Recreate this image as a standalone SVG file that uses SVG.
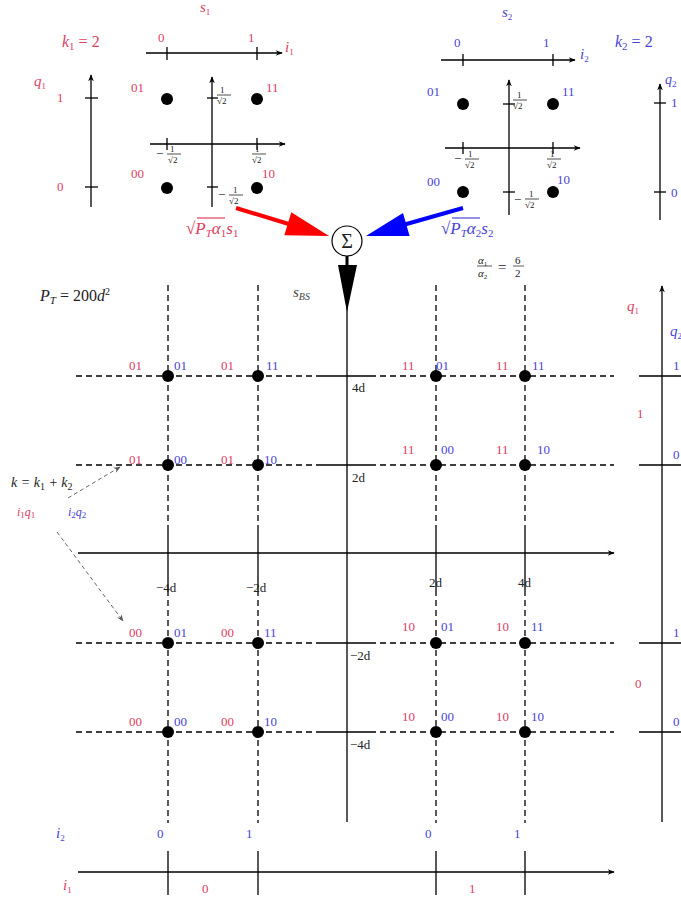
<svg xmlns="http://www.w3.org/2000/svg" width="681" height="903" viewBox="0 0 681 903">
<defs>
<marker id="ah" viewBox="0 0 10 10" refX="9" refY="5" markerWidth="9" markerHeight="7" orient="auto" markerUnits="userSpaceOnUse"><path d="M0,1 L10,5 L0,9 L3,5 Z" fill="#000"/></marker>
<marker id="ahg" viewBox="0 0 10 10" refX="9" refY="5" markerWidth="9" markerHeight="7" orient="auto" markerUnits="userSpaceOnUse"><path d="M0,1 L10,5 L0,9 L3,5 Z" fill="#555"/></marker>
</defs>
<style>
text{font-family:"Liberation Serif","DejaVu Serif",serif;font-size:13px}
.r{fill:#e0405f}
.b{fill:#4a44d6}
.k{fill:#222}
.it{font-style:italic}
.sm{font-size:9px;font-style:normal}
.sub{font-style:normal}
.big{font-size:16px}
.ax{stroke:#000;stroke-width:1.3;fill:none}
.axa{stroke:#000;stroke-width:1.3;fill:none;marker-end:url(#ah)}
.dash{stroke:#000;stroke-width:1.3;stroke-dasharray:6,4;fill:none}
.dot{fill:#000}
</style>
<rect width="681" height="903" fill="#fff"/>

<!-- Top-left constellation s1 -->
<g id="s1">
<text class="r it" x="200" y="12" style="font-size:15px">s<tspan class="sm" dy="3">1</tspan></text>
<text class="r it big" x="62" y="47">k<tspan class="sm" dy="3" style="font-size:11px">1</tspan><tspan dy="-3" style="font-style:normal"> = 2</tspan></text>
<line class="axa" x1="146" y1="53" x2="282" y2="53"/>
<line class="ax" x1="167" y1="47" x2="167" y2="60"/>
<line class="ax" x1="257" y1="47" x2="257" y2="60"/>
<text class="r" x="158" y="42">0</text>
<text class="r" x="248" y="42">1</text>
<text class="r it" x="285" y="52" style="font-size:15px">i<tspan class="sm" dy="3">1</tspan></text>
<line class="axa" x1="91" y1="207" x2="91" y2="75"/>
<line class="ax" x1="85" y1="98" x2="98" y2="98"/>
<line class="ax" x1="85" y1="187" x2="98" y2="187"/>
<text class="r it" x="34" y="86" style="font-size:15px">q<tspan class="sm" dy="3">1</tspan></text>
<text class="r" x="57" y="102">1</text>
<text class="r" x="57" y="191">0</text>
<line class="axa" x1="212" y1="207" x2="212" y2="77"/>
<line class="axa" x1="150" y1="144" x2="285" y2="144"/>
<line class="ax" x1="167" y1="138" x2="167" y2="150"/>
<line class="ax" x1="257" y1="138" x2="257" y2="150"/>
<line class="ax" x1="207" y1="98" x2="218" y2="98"/>
<line class="ax" x1="207" y1="187" x2="218" y2="187"/>
<circle class="dot" cx="167" cy="99" r="6"/>
<circle class="dot" cx="257" cy="99" r="6"/>
<circle class="dot" cx="167" cy="188" r="6"/>
<circle class="dot" cx="257" cy="188" r="6"/>
<text class="r" x="131" y="92">01</text>
<text class="r" x="266" y="92">11</text>
<text class="r" x="131" y="178">00</text>
<text class="r" x="262" y="178">10</text>
<g class="k">
<text class="sm" x="220" y="93">1</text><line x1="217" y1="95" x2="231" y2="95" stroke="#000" stroke-width="0.7"/><text class="sm" x="217" y="104">√2</text>
<text x="156" y="158">−</text><text class="sm" x="170" y="152">1</text><line x1="167" y1="154" x2="181" y2="154" stroke="#000" stroke-width="0.7"/><text class="sm" x="168" y="163">√2</text>
<text class="sm" x="255" y="152">1</text><line x1="252" y1="154" x2="266" y2="154" stroke="#000" stroke-width="0.7"/><text class="sm" x="252" y="163">√2</text>
<text x="218" y="199">−</text><text class="sm" x="233" y="193">1</text><line x1="229" y1="195" x2="243" y2="195" stroke="#000" stroke-width="0.7"/><text class="sm" x="229" y="204">√2</text>
</g>
</g>

<!-- Top-right constellation s2 -->
<g id="s2">
<text class="b it" x="502" y="17" style="font-size:15px">s<tspan class="sm" dy="3">2</tspan></text>
<text class="b it big" x="615" y="47">k<tspan class="sm" dy="3" style="font-size:11px">2</tspan><tspan dy="-3" style="font-style:normal"> = 2</tspan></text>
<line class="axa" x1="441" y1="60" x2="575" y2="60"/>
<line class="ax" x1="463" y1="54" x2="463" y2="66"/>
<line class="ax" x1="553" y1="54" x2="553" y2="66"/>
<text class="b" x="454" y="47">0</text>
<text class="b" x="543" y="47">1</text>
<text class="b it" x="580" y="59" style="font-size:15px">i<tspan class="sm" dy="3">2</tspan></text>
<line class="axa" x1="509" y1="215" x2="509" y2="80"/>
<line class="axa" x1="445" y1="148" x2="580" y2="148"/>
<line class="ax" x1="463" y1="142" x2="463" y2="154"/>
<line class="ax" x1="553" y1="142" x2="553" y2="154"/>
<line class="ax" x1="503" y1="104" x2="515" y2="104"/>
<line class="ax" x1="503" y1="192" x2="515" y2="192"/>
<circle class="dot" cx="463" cy="104" r="6"/>
<circle class="dot" cx="553" cy="104" r="6"/>
<circle class="dot" cx="463" cy="192" r="6"/>
<circle class="dot" cx="553" cy="192" r="6"/>
<text class="b" x="427" y="96">01</text>
<text class="b" x="562" y="96">11</text>
<text class="b" x="427" y="186">00</text>
<text class="b" x="557" y="184">10</text>
<g class="k">
<text class="sm" x="517" y="98">1</text><line x1="513" y1="100" x2="527" y2="100" stroke="#000" stroke-width="0.7"/><text class="sm" x="513" y="109">√2</text>
<text x="454" y="163">−</text><text class="sm" x="468" y="157">1</text><line x1="465" y1="159" x2="479" y2="159" stroke="#000" stroke-width="0.7"/><text class="sm" x="465" y="168">√2</text>
<text class="sm" x="550" y="157">1</text><line x1="547" y1="159" x2="561" y2="159" stroke="#000" stroke-width="0.7"/><text class="sm" x="547" y="168">√2</text>
<text x="514" y="204">−</text><text class="sm" x="529" y="197">1</text><line x1="525" y1="199" x2="539" y2="199" stroke="#000" stroke-width="0.7"/><text class="sm" x="525" y="208">√2</text>
</g>
<line class="axa" x1="660" y1="220" x2="660" y2="84"/>
<line class="ax" x1="654" y1="103" x2="666" y2="103"/>
<line class="ax" x1="654" y1="192" x2="666" y2="192"/>
<text class="b it" x="665" y="84" style="font-size:14px">q<tspan class="sm" dy="3">2</tspan></text>
<text class="b" x="671" y="107">1</text>
<text class="b" x="671" y="197">0</text>
</g>

<!-- Summation node -->
<g id="sum">
<circle cx="347" cy="241" r="15" fill="#fff" stroke="#000" stroke-width="1.2"/>
<text x="347" y="248" text-anchor="middle" class="k" style="font-size:20px">Σ</text>
</g>

<!-- Connectors -->
<g id="connectors">
<line x1="236" y1="208" x2="292" y2="225" stroke="#f00" stroke-width="4"/>
<polygon points="329,236 284.3,235.2 291.3,212.2" fill="#f00"/>
<line x1="463" y1="208" x2="403" y2="225" stroke="#00f" stroke-width="4"/>
<polygon points="366,236 409.6,235.9 403,212.9" fill="#00f"/>
<line x1="347" y1="256" x2="347" y2="268" stroke="#000" stroke-width="3"/>
<polygon points="338,265 357,265 347,312" fill="#000"/>
<line x1="68" y1="498" x2="120" y2="467" stroke="#555" stroke-width="0.9" stroke-dasharray="4,3" marker-end="url(#ahg)"/>
<line x1="57" y1="532" x2="123" y2="621" stroke="#555" stroke-width="0.9" stroke-dasharray="4,3" marker-end="url(#ahg)"/>
</g>

<g id="labels">
<text class="r it" x="186" y="234" style="font-size:17px">√<tspan>P</tspan><tspan dy="3" style="font-size:11px">T</tspan><tspan dy="-3">α</tspan><tspan class="sub" dy="3" style="font-size:11px">1</tspan><tspan dy="-3">s</tspan><tspan class="sub" dy="3" style="font-size:11px">1</tspan></text>
<line x1="197" y1="218" x2="225" y2="218" stroke="#e0405f" stroke-width="1.2"/>
<text class="b it" x="441" y="234" style="font-size:17px">√<tspan>P</tspan><tspan dy="3" style="font-size:11px">T</tspan><tspan dy="-3">α</tspan><tspan class="sub" dy="3" style="font-size:11px">2</tspan><tspan dy="-3">s</tspan><tspan class="sub" dy="3" style="font-size:11px">2</tspan></text>
<line x1="452" y1="218" x2="480" y2="218" stroke="#4a44d6" stroke-width="1.2"/>
<g class="k">
<text class="it" x="478" y="264" style="font-size:11px">α<tspan class="sub" dy="2" style="font-size:7px">1</tspan></text>
<line x1="477" y1="266" x2="492" y2="266" stroke="#333" stroke-width="0.8"/>
<text class="it" x="478" y="277" style="font-size:11px">α<tspan class="sub" dy="2" style="font-size:7px">2</tspan></text>
<text x="498" y="272" style="font-size:15px">=</text>
<text x="515" y="264" style="font-size:11px">6</text>
<line x1="513" y1="266" x2="524" y2="266" stroke="#333" stroke-width="0.8"/>
<text x="515" y="277" style="font-size:11px">2</text>
</g>
<text class="k it" x="40" y="301" style="font-size:16px">P<tspan dy="3" style="font-size:11px">T</tspan><tspan dy="-3" style="font-style:normal"> = 200</tspan>d<tspan dy="-6" style="font-size:10px;font-style:normal">2</tspan></text>
<text class="it" x="293" y="297" style="font-size:15px;fill:#444">s<tspan dy="3" style="font-size:10px">BS</tspan></text>
<text class="k it" x="11" y="487" style="font-size:14px">k = k<tspan class="sub" dy="3" style="font-size:10px">1</tspan><tspan dy="-3"> + k</tspan><tspan class="sub" dy="3" style="font-size:10px">2</tspan></text>
<text class="r it" x="17" y="516" style="font-size:12px">i<tspan class="sub" dy="2" style="font-size:9px">1</tspan><tspan dy="-2">q</tspan><tspan class="sub" dy="2" style="font-size:9px">1</tspan></text>
<text class="b it" x="68" y="516" style="font-size:12px">i<tspan class="sub" dy="2" style="font-size:9px">2</tspan><tspan dy="-2">q</tspan><tspan class="sub" dy="2" style="font-size:9px">2</tspan></text>
</g>

<!-- Main constellation grid -->
<g id="grid">
<path class="dash" d="M168,285 V530 M168,590 V823 M258,285 V530 M258,590 V823 M436,285 V530 M436,590 V823 M525,285 V530 M525,590 V823"/>
<path class="ax" d="M168,530 V590 M258,530 V590 M436,530 V590 M525,530 V590"/>
<path class="dash" d="M76,376 H320 M370,376 H614 M76,465 H320 M370,465 H614 M76,643 H320 M370,643 H614 M76,732 H320 M370,732 H614"/>
<path class="ax" d="M320,376 H370 M320,465 H370 M320,643 H370 M320,732 H370"/>
<line class="ax" x1="347" y1="300" x2="347" y2="822"/>
<line class="axa" x1="78" y1="553" x2="614" y2="553"/>
</g>

<g id="points">
<circle class="dot" cx="168" cy="376" r="6"/><circle class="dot" cx="258" cy="376" r="6"/><circle class="dot" cx="436" cy="376" r="6"/><circle class="dot" cx="525" cy="376" r="6"/>
<circle class="dot" cx="168" cy="465" r="6"/><circle class="dot" cx="258" cy="465" r="6"/><circle class="dot" cx="436" cy="465" r="6"/><circle class="dot" cx="525" cy="465" r="6"/>
<circle class="dot" cx="168" cy="643" r="6"/><circle class="dot" cx="258" cy="643" r="6"/><circle class="dot" cx="436" cy="643" r="6"/><circle class="dot" cx="525" cy="643" r="6"/>
<circle class="dot" cx="168" cy="732" r="6"/><circle class="dot" cx="258" cy="732" r="6"/><circle class="dot" cx="436" cy="732" r="6"/><circle class="dot" cx="525" cy="732" r="6"/>
</g>

<g id="point-labels">
<text class="r" x="129" y="370">01</text><text class="b" x="174" y="370">01</text><text class="r" x="221" y="370">01</text><text class="b" x="266" y="370">11</text>
<text class="r" x="402" y="370">11</text><text class="b" x="436" y="370">01</text><text class="r" x="496" y="370">11</text><text class="b" x="532" y="370">11</text>
<text class="r" x="129" y="464">01</text><text class="b" x="174" y="464">00</text><text class="r" x="221" y="464">01</text><text class="b" x="264" y="464">10</text>
<text class="r" x="402" y="454">11</text><text class="b" x="441" y="454">00</text><text class="r" x="496" y="454">11</text><text class="b" x="537" y="454">10</text>
<text class="r" x="129" y="637">00</text><text class="b" x="174" y="637">01</text><text class="r" x="221" y="637">00</text><text class="b" x="264" y="637">11</text>
<text class="r" x="402" y="631">10</text><text class="b" x="441" y="631">01</text><text class="r" x="496" y="631">10</text><text class="b" x="531" y="631">11</text>
<text class="r" x="129" y="726">00</text><text class="b" x="174" y="726">00</text><text class="r" x="221" y="726">00</text><text class="b" x="264" y="726">10</text>
<text class="r" x="402" y="721">10</text><text class="b" x="441" y="721">00</text><text class="r" x="496" y="721">10</text><text class="b" x="531" y="721">10</text>
</g>

<g id="axis-labels" class="k">
<text x="352" y="392">4d</text>
<text x="352" y="482">2d</text>
<text x="350" y="660">−2d</text>
<text x="350" y="749">−4d</text>
<text x="156" y="592">−4d</text>
<text x="246" y="592">−2d</text>
<text x="429" y="587">2d</text>
<text x="518" y="587">4d</text>
</g>

<!-- Right-hand q axis -->
<g id="q-axis">
<line class="axa" x1="662" y1="822" x2="662" y2="286"/>
<path class="ax" d="M639,376 H681 M639,465 H681 M639,643 H681 M639,732 H681"/>
<text class="r it" x="627" y="311" style="font-size:15px">q<tspan class="sm" dy="3">1</tspan></text>
<text class="b it" x="670" y="336" style="font-size:15px">q<tspan class="sm" dy="3">2</tspan></text>
<text class="b" x="673" y="370">1</text>
<text class="b" x="673" y="459">0</text>
<text class="b" x="673" y="637">1</text>
<text class="b" x="673" y="726">0</text>
<text class="r" x="637" y="418">1</text>
<text class="r" x="635" y="688">0</text>
</g>

<!-- Bottom i axis -->
<g id="i-axis">
<line class="axa" x1="78" y1="872" x2="614" y2="872"/>
<path class="ax" d="M168,851 V895 M258,851 V895 M436,851 V895 M525,851 V895"/>
<text class="b it" x="56" y="838" style="font-size:15px">i<tspan class="sm" dy="3">2</tspan></text>
<text class="b" x="157" y="838">0</text>
<text class="b" x="246" y="838">1</text>
<text class="b" x="425" y="838">0</text>
<text class="b" x="514" y="838">1</text>
<text class="r it" x="63" y="890" style="font-size:15px">i<tspan class="sm" dy="3">1</tspan></text>
<text class="r" x="202" y="893">0</text>
<text class="r" x="469" y="893">1</text>
</g>
</svg>
